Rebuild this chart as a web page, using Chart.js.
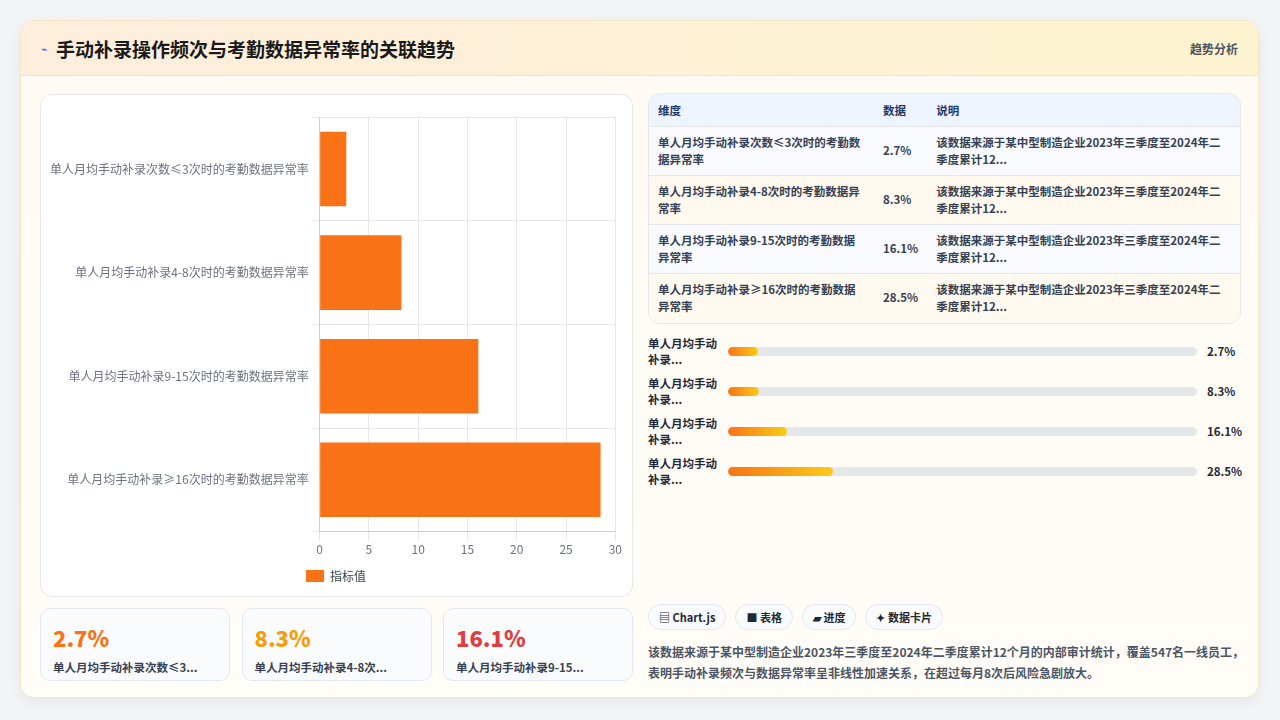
<!DOCTYPE html>
<html><head><meta charset="utf-8">
<script src="https://cdn.jsdelivr.net/npm/chart.js@4"></script>
<style>
*{box-sizing:border-box;margin:0;padding:0}
body{width:1280px;height:720px;background:#f3f4f6;font-family:"Noto Sans CJK SC","Noto Sans",sans-serif;color:#1f2937;overflow:hidden}
.wrap{position:absolute;left:20px;top:20px;width:1239px;height:678px;border-radius:14px;background:linear-gradient(180deg,#fffaf3,#fffdf8);border:1px solid #f5e6c8;box-shadow:0 4px 14px rgba(0,0,0,.06);overflow:hidden}
.hd{height:55px;background:linear-gradient(90deg,#fdeedd,#fdf3d0);border-bottom:1px solid #f1e3c9;display:flex;align-items:center;padding:0 20px}
.hd h1{font-size:19px;font-weight:700;color:#1a1a1a;margin-left:8px}
.hd .ic{font-size:11px;color:#3b5bdb}
.hd .r{margin-left:auto;font-size:12px;color:#4b5563;font-weight:600}
.box{position:absolute;background:#fff;border:1px solid #e5e7eb;border-radius:12px}
.stat{position:absolute;top:587px;width:190px;height:73px;background:#fafbfd;border:1px solid #e3e8f0;border-radius:10px;padding:12px 12px}
.stat b{display:block;font-size:22px;font-weight:800}
.stat span{font-size:11.5px;color:#374151;font-weight:600}
table{width:100%;border-collapse:collapse;font-size:11.5px}
th{background:#eef4fd;color:#1e3a6b;text-align:left;font-weight:600;height:32px;padding:0 9px}
td{padding:5px 9px;height:49px;border-top:1px solid #e5e7eb;font-weight:600;color:#374151;line-height:17px}
tr:nth-child(odd) td{background:#fff9f0}
tr:nth-child(even) td{background:#f8fafd}
.pr{position:absolute;left:627px;width:600px;height:40px;display:flex;align-items:center;font-size:11.5px;font-weight:600}
.pr .l{width:80px;line-height:16px}
.pr .t{width:469px;height:9px;background:#e5e7eb;border-radius:5px;overflow:hidden}
.pr .f{height:100%;border-radius:5px;background:linear-gradient(90deg,#f97316,#facc15)}
.pr .v{margin-left:10px}
.chips{position:absolute;left:627px;top:583px;display:flex;gap:9px}
.chip{border:1px solid #e5e7eb;background:#f9fafb;border-radius:14px;padding:4px 10px;font-size:11px;font-weight:600}
.note{position:absolute;left:627px;top:620px;width:600px;font-size:12px;line-height:21px;color:#4b5563;font-weight:600}
</style></head><body>
<div class="wrap">
 <div class="hd"><span class="ic">⌁</span><h1>手动补录操作频次与考勤数据异常率的关联趋势</h1><span class="r">趋势分析</span></div>
 <div class="box" style="left:19px;top:73px;width:593px;height:503px"><div style="position:absolute;left:6px;top:12px;width:578px;height:485px"><canvas id="c"></canvas></div></div>
 <div id="stats"></div>
 <div class="box" style="left:627px;top:72px;width:593px;height:231px;overflow:hidden"><table id="tb"></table></div>
 <div id="prog"></div>
 <div class="chips"><span class="chip">▤ Chart.js</span><span class="chip">■ 表格</span><span class="chip">▰ 进度</span><span class="chip">✦ 数据卡片</span></div>
 <div class="note">该数据来源于某中型制造企业2023年三季度至2024年二季度累计12个月的内部审计统计，覆盖547名一线员工，表明手动补录频次与数据异常率呈非线性加速关系，在超过每月8次后风险急剧放大。</div>
</div>
<script>
var categories = ['单人月均手动补录次数≤3次时的考勤数据异常率','单人月均手动补录4-8次时的考勤数据异常率','单人月均手动补录9-15次时的考勤数据异常率','单人月均手动补录≥16次时的考勤数据异常率'];
var values = [2.7, 8.3, 16.1, 28.5];
var tableNames = ['单人月均手动补录次数≤3次时的考勤数据异常率','单人月均手动补录4-8次时的考勤数据异常率','单人月均手动补录9-15次时的考勤数据异常率','单人月均手动补录≥16次时的考勤数据异常率'];
var note = '该数据来源于某中型制造企业2023年三季度至2024年二季度累计12...';
var statLabels = ['单人月均手动补录次数≤3...','单人月均手动补录4-8次...','单人月均手动补录9-15...'];
var statColors = ['#f97316','#f59e0b','#e03e3e'];

var tb = '<tr><th style="width:225px">维度</th><th style="width:53px">数据</th><th>说明</th></tr>';
var pr = '', st = '';
for (var i in values) {
	tb += '<tr><td>' + tableNames[i] + '</td><td>' + values[i] + '%</td><td>' + note + '</td></tr>';
	var w = Math.max(6.4, values[i] * 0.786);
	pr += '<div class="pr" style="top:' + (310 + i * 40) + 'px"><div class="l">单人月均手动<br>补录...</div><div class="t"><div class="f" style="width:' + w + '%"></div></div><div class="v">' + values[i] + '%</div></div>';
	if (i < 3) st += '<div class="stat" style="left:' + (19 + i * 201.5) + 'px"><b style="color:' + statColors[i] + '">' + values[i] + '%</b><span>' + statLabels[i] + '</span></div>';
}
document.getElementById('tb').innerHTML = tb;
document.getElementById('prog').innerHTML = pr;
document.getElementById('stats').innerHTML = st;

Chart.defaults.font.family = '"Noto Sans CJK SC","Noto Sans",sans-serif';
new Chart(document.getElementById('c'), {
	type: 'bar',
	data: { labels: categories, datasets: [{ label: '指标值', data: values, backgroundColor: '#f97316', borderColor: '#f97316', barPercentage: 0.9, categoryPercentage: 0.8 }] },
	options: {
		indexAxis: 'y', responsive: true, maintainAspectRatio: false, animation: false,
		plugins: { legend: { position: 'bottom', labels: { boxWidth: 18, boxHeight: 12, color: '#374151', font: { size: 12 } } } },
		scales: {
			x: { min: 0, max: 30, ticks: { stepSize: 5, color: '#6b7280', font: { size: 12 } }, grid: { color: '#e5e7eb' } },
			y: { ticks: { color: '#6b7280', font: { size: 12 } }, grid: { color: '#e5e7eb' } }
		}
	}
});
</script>
</body></html>
